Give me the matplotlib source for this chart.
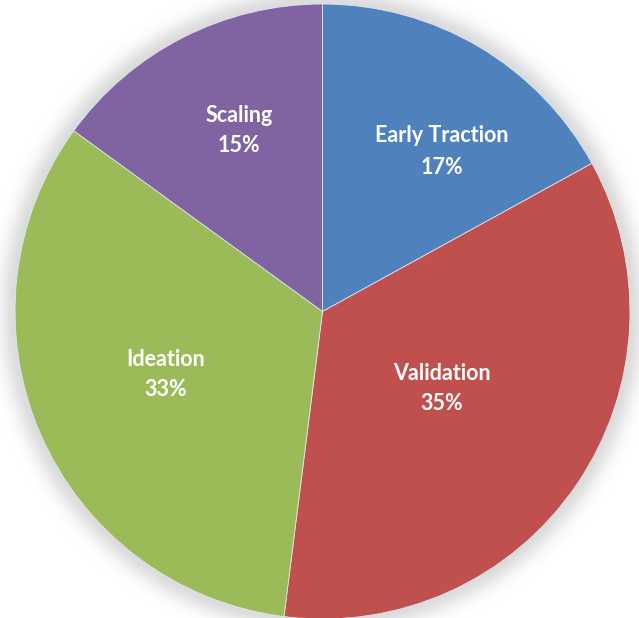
import math
import matplotlib
matplotlib.use("Agg")
import matplotlib.pyplot as plt
from matplotlib.patches import Circle

labels = ["Early Traction", "Validation", "Ideation", "Scaling"]
values = [17, 35, 33, 15]
colors = ["#4F81BD", "#C0504D", "#9BBB59", "#8064A2"]

W, H = 639, 618
fig = plt.figure(figsize=(W / 100, H / 100), dpi=100)
ax = fig.add_axes([0, 0, 1, 1])

cx, cy, R = 322.5, H - 311.5, 307.5

# soft shadow: opaque discs in graded greys (outermost lightest)
for t in range(40, -1, -1):
    g = 1.0 - 0.14 * math.exp(-(t / 15.0) ** 2)
    ax.add_patch(Circle((cx, cy), R + t, facecolor=(g, g, g), edgecolor="none", zorder=1))

wedges, texts = ax.pie(values, colors=colors, startangle=90, counterclock=False,
                       center=(cx, cy), radius=R, frame=True,
                       wedgeprops=dict(edgecolor="#dfe6f0", linewidth=0.6))
for w in wedges:
    w.set_zorder(2)

ax.set_xlim(0, W)
ax.set_ylim(0, H)
ax.set_aspect("equal")
ax.axis("off")

label_pos = [(442, 136, 167), (442, 374, 404), (166, 359, 389), (239, 116, 146)]
for lab, v, (x, y1, y2) in zip(labels, values, label_pos):
    for txt, y in ((lab, y1), (f"{v}%", y2)):
        ax.text(x, H - y, txt, ha="center", va="center", color="white",
                fontsize=15.5, fontweight="bold", family="Lato", zorder=3)

fig.savefig("out.png", dpi=100)
